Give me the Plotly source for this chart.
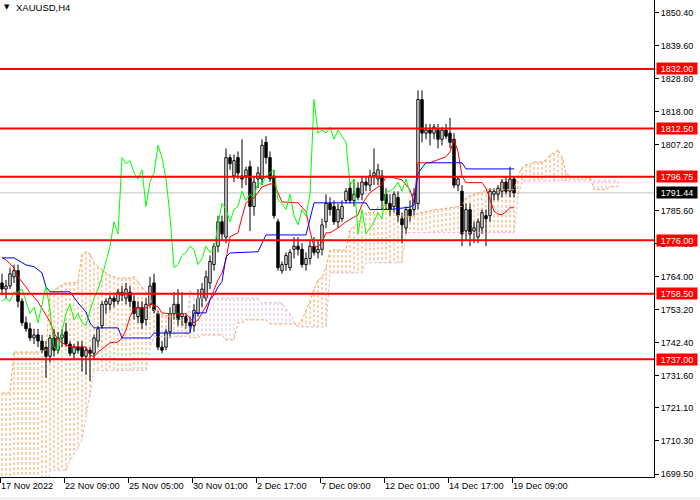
import plotly.graph_objects as go

# ---------------- data ----------------
bar_open = [1762, 1760, 1761, 1764, 1766, 1756, 1749, 1747, 1744, 1745,
            1743, 1741, 1738, 1744, 1740, 1744, 1746, 1742, 1739, 1741,
            1741, 1738, 1740, 1739, 1743, 1748, 1755, 1755, 1757, 1756,
            1758, 1757, 1759, 1756, 1751, 1754, 1750, 1755, 1762, 1752,
            1741, 1741, 1746, 1752, 1755, 1751, 1751, 1749, 1748, 1752,
            1757, 1757, 1762, 1768, 1774, 1782, 1777, 1803, 1797, 1803,
            1797, 1797, 1800, 1787, 1796, 1796, 1808, 1803, 1797, 1782,
            1766, 1768, 1767, 1773, 1774, 1773, 1768, 1770, 1774, 1772,
            1773, 1782, 1788, 1787, 1782, 1783, 1789, 1793, 1789, 1793,
            1791, 1795, 1794, 1797, 1796, 1797, 1791, 1788, 1787, 1790,
            1783, 1780, 1786, 1786, 1788, 1822, 1811, 1812, 1811, 1812,
            1809, 1812, 1811, 1809, 1794, 1792, 1779, 1786, 1779, 1777,
            1780, 1784, 1784, 1791, 1791, 1792, 1795, 1792, 1796]
bar_high = [1765, 1763, 1767, 1768, 1768, 1757, 1751, 1749, 1747, 1747,
            1745, 1743, 1745, 1747, 1746, 1747, 1749, 1743, 1742, 1743,
            1743, 1741, 1741, 1745, 1748, 1756, 1757, 1758, 1758, 1760,
            1761, 1762, 1761, 1758, 1756, 1756, 1757, 1764, 1765, 1753,
            1743, 1747, 1754, 1759, 1760, 1759, 1752, 1751, 1755, 1760,
            1762, 1766, 1771, 1775, 1784, 1784, 1806, 1804, 1804, 1805,
            1809, 1800, 1802, 1797, 1800, 1809, 1810, 1805, 1799, 1783,
            1769, 1772, 1773, 1777, 1777, 1775, 1772, 1776, 1777, 1776,
            1783, 1791, 1790, 1789, 1788, 1789, 1793, 1795, 1796, 1795,
            1797, 1797, 1799, 1806, 1801, 1799, 1793, 1791, 1792, 1792,
            1785, 1787, 1789, 1793, 1825, 1825, 1814, 1814, 1814, 1814,
            1813, 1814, 1816, 1811, 1797, 1794, 1788, 1788, 1782, 1783,
            1786, 1786, 1793, 1793, 1794, 1796, 1797, 1800, 1797]
bar_low = [1758, 1757, 1760, 1762, 1754, 1748, 1746, 1743, 1742, 1741,
           1739, 1731, 1736, 1738, 1739, 1741, 1741, 1738, 1737, 1739,
           1733, 1732, 1730, 1737, 1741, 1747, 1752, 1753, 1754, 1755,
           1756, 1755, 1754, 1750, 1749, 1747, 1748, 1754, 1752, 1740,
           1739, 1740, 1744, 1750, 1748, 1748, 1747, 1746, 1746, 1751,
           1754, 1756, 1760, 1766, 1772, 1776, 1775, 1799, 1795, 1796,
           1793, 1794, 1779, 1784, 1793, 1794, 1801, 1795, 1783, 1766,
           1765, 1766, 1766, 1770, 1771, 1767, 1766, 1768, 1771, 1770,
           1771, 1780, 1784, 1781, 1780, 1782, 1788, 1788, 1787, 1789,
           1789, 1792, 1792, 1794, 1794, 1786, 1786, 1784, 1785, 1782,
           1775, 1778, 1782, 1784, 1786, 1808, 1809, 1807, 1809, 1806,
           1807, 1809, 1806, 1793, 1792, 1774, 1776, 1774, 1775, 1775,
           1778, 1774, 1782, 1789, 1789, 1790, 1791, 1790, 1790]
bar_close = [1760, 1761, 1765, 1766, 1756, 1749, 1747, 1744, 1745, 1743,
             1740, 1738, 1744, 1740, 1744, 1745, 1742, 1739, 1741, 1740,
             1738, 1740, 1739, 1744, 1747, 1755, 1756, 1757, 1756, 1759,
             1759, 1760, 1756, 1752, 1754, 1749, 1755, 1761, 1753, 1741,
             1740, 1746, 1752, 1755, 1750, 1752, 1749, 1748, 1753, 1757,
             1760, 1764, 1769, 1774, 1782, 1778, 1803, 1801, 1802, 1798,
             1796, 1799, 1787, 1795, 1798, 1807, 1803, 1796, 1784, 1767,
             1768, 1771, 1772, 1774, 1773, 1768, 1770, 1774, 1772, 1773,
             1781, 1788, 1786, 1782, 1786, 1787, 1792, 1789, 1791, 1790,
             1795, 1794, 1797, 1798, 1799, 1789, 1788, 1786, 1791, 1784,
             1781, 1786, 1784, 1791, 1822, 1811, 1812, 1811, 1813, 1809,
             1812, 1810, 1808, 1794, 1796, 1778, 1786, 1778, 1780, 1782,
             1785, 1783, 1792, 1792, 1793, 1795, 1792, 1796, 1791.44]

tenkan_bar = [0, 1, 3, 4, 6, 7, 9, 11, 12, 13, 14, 15, 17, 21, 22, 23, 24, 27, 29, 30,
              31, 32, 33, 36, 37, 39, 40, 42, 46, 47, 48, 49, 50, 51, 52, 53, 54, 55, 56, 57,
              59, 60, 61, 62, 63, 65, 67, 68, 70, 74, 76, 77, 78, 79, 80, 81, 82, 84, 86, 89,
              90, 91, 92, 94, 95, 96, 98, 100, 102, 103, 104, 107, 109, 111, 112, 113, 114, 115, 116, 120,
              121, 122, 123, 124, 125, 126, 127, 128]
tenkan_val = [1770.2, 1769.6, 1766.9, 1764.0, 1760.7, 1758.8, 1755.8, 1751.5, 1749.3, 1745.7,
              1743.4, 1742.4, 1741.1, 1741.1, 1738.5, 1737.8, 1739.4, 1742.4, 1742.7, 1744.0,
              1746.6, 1750.9, 1753.8, 1753.8, 1755.1, 1754.2, 1752.2, 1751.9, 1751.9, 1750.6,
              1748.9, 1749.9, 1752.2, 1754.2, 1756.5, 1759.7, 1763.0, 1765.3, 1769.6, 1777.1,
              1778.4, 1783.6, 1788.2, 1789.2, 1789.8, 1793.4, 1794.4, 1794.4, 1788.5, 1788.2,
              1785.3, 1779.0, 1773.8, 1773.8, 1775.4, 1778.4, 1778.4, 1780.0, 1782.0, 1784.3,
              1787.6, 1789.8, 1791.5, 1793.4, 1794.1, 1796.7, 1796.4, 1795.7, 1792.5, 1788.2,
              1801.3, 1801.3, 1802.3, 1803.3, 1804.9, 1808.8, 1805.0, 1797.0, 1794.8, 1794.8,
              1793.0, 1789.0, 1785.5, 1784.5, 1784.3, 1785.3, 1786.6, 1786.6]

kijun_bar = [0, 3, 6, 8, 10, 11, 12, 17, 19, 21, 22, 23, 29, 30, 37, 38, 47, 48, 51, 52,
             53, 54, 55, 56, 57, 64, 66, 76, 78, 91, 92, 97, 102, 103, 104, 106, 115, 116, 128]
kijun_val = [1770.2, 1770.2, 1767.9, 1767.3, 1765.3, 1760.7, 1759.1, 1759.1, 1755.5, 1752.5,
             1748.9, 1747.3, 1747.3, 1744.0, 1744.0, 1745.6, 1745.6, 1752.2, 1752.2, 1756.5,
             1758.1, 1760.7, 1762.4, 1770.5, 1771.8, 1772.2, 1777.7, 1777.7, 1788.2, 1788.2,
             1786.0, 1786.0, 1786.8, 1787.5, 1798.0, 1801.3, 1801.3, 1799.3, 1799.3]

span_a = [1726.0, 1726.0, 1726.0, 1739.4, 1739.4, 1739.4, 1739.4, 1739.4, 1739.4, 1739.4,
          1740.0, 1740.0, 1758.8, 1759.7, 1760.7, 1761.4, 1762.0, 1762.0, 1762.0, 1762.4,
          1771.4, 1772.2, 1771.4, 1768.6, 1767.3, 1766.3, 1765.3, 1764.5, 1764.0, 1763.6,
          1763.6, 1763.6, 1763.6, 1764.0, 1762.4, 1760.7, 1759.0, 1757.4, 1753.2, 1752.0,
          1751.5, 1751.5, 1750.9, 1750.9, 1750.0, 1749.9, 1746.0, 1744.1, 1744.1, 1744.1,
          1745.0, 1745.0, 1745.0, 1745.0, 1745.0, 1745.0, 1743.4, 1743.4, 1743.4, 1749.0,
          1749.0, 1749.9, 1749.9, 1749.9, 1749.9, 1749.9, 1749.9, 1748.6, 1748.6, 1748.6,
          1748.6, 1748.6, 1748.6, 1748.6, 1748.0, 1750.0, 1753.0, 1756.0, 1760.0, 1763.0,
          1764.0, 1767.0, 1772.8, 1772.8, 1772.8, 1772.8, 1772.8, 1779.4, 1780.5, 1781.7,
          1784.0, 1785.0, 1785.0, 1785.0, 1786.9, 1786.9, 1786.9, 1785.9, 1785.0, 1784.0,
          1784.0, 1783.6, 1783.6, 1783.6, 1785.0, 1785.0, 1785.3, 1785.6, 1786.0, 1786.0,
          1786.2, 1786.5, 1786.6, 1786.9, 1787.0, 1787.0, 1790.0, 1790.5, 1791.0, 1791.5,
          1791.5, 1792.5, 1792.5, 1792.5, 1792.5, 1792.5, 1792.5, 1792.5, 1792.5, 1797.0,
          1799.7, 1800.7, 1800.7, 1801.6, 1801.6, 1801.6, 1802.3, 1803.9, 1804.5, 1805.6,
          1803.0, 1798.0, 1796.7, 1796.7, 1796.7, 1796.7, 1796.7, 1796.7, 1792.5, 1792.5,
          1792.5, 1792.5, 1793.5, 1793.5, 1793.5]
span_b = [1690.0, 1690.0, 1690.0, 1690.0, 1690.0, 1690.0, 1690.0, 1690.0, 1690.0, 1690.0,
          1690.0, 1690.0, 1700.8, 1700.8, 1700.8, 1700.8, 1700.8, 1704.0, 1706.0, 1708.0,
          1710.6, 1718.0, 1725.0, 1733.4, 1733.4, 1733.4, 1733.4, 1733.4, 1733.4, 1733.4,
          1733.4, 1733.4, 1733.4, 1733.4, 1733.4, 1733.4, 1733.4, 1741.0, 1744.4, 1744.4,
          1744.4, 1744.4, 1744.4, 1744.4, 1744.4, 1744.4, 1744.4, 1759.7, 1757.0, 1757.0,
          1757.0, 1757.0, 1757.0, 1757.0, 1757.0, 1757.0, 1757.0, 1757.0, 1757.0, 1757.0,
          1757.0, 1757.0, 1757.0, 1757.0, 1757.0, 1755.5, 1755.5, 1755.5, 1755.5, 1755.5,
          1755.5, 1753.5, 1752.0, 1749.3, 1747.6, 1747.6, 1747.6, 1747.6, 1747.6, 1747.6,
          1747.6, 1747.6, 1765.3, 1765.3, 1765.3, 1765.3, 1765.3, 1765.3, 1765.3, 1765.3,
          1765.3, 1768.6, 1768.6, 1768.6, 1768.6, 1768.6, 1768.6, 1768.6, 1768.6, 1768.6,
          1768.6, 1778.4, 1778.4, 1778.4, 1778.4, 1778.4, 1778.4, 1778.4, 1778.4, 1778.4,
          1778.4, 1778.4, 1778.4, 1778.4, 1778.4, 1778.4, 1778.4, 1778.4, 1778.4, 1778.4,
          1778.4, 1778.4, 1778.4, 1778.4, 1778.4, 1778.4, 1778.4, 1778.4, 1778.4, 1790.0,
          1795.4, 1795.4, 1795.4, 1795.4, 1795.4, 1795.4, 1795.4, 1795.4, 1795.4, 1795.4,
          1795.4, 1795.4, 1795.4, 1795.4, 1795.4, 1795.4, 1795.4, 1795.4, 1795.4, 1795.4,
          1795.4, 1795.4, 1795.4, 1795.4, 1795.4]

chikou_shift = 26
levels = [1832.00, 1812.50, 1796.75, 1776.00, 1758.50, 1737.00]
last_price = 1791.44

y_ticks = [1850.40, 1839.60, 1828.80, 1818.00, 1807.20, 1785.60, 1774.80, 1764.00,
           1753.20, 1742.40, 1731.60, 1721.10, 1710.30, 1699.50]
x_tick_bars = [-0.5, 15.5, 31.5, 47.5, 63.5, 79.5, 95.5, 111.5, 127.5]
x_tick_text = ["17 Nov 2022", "22 Nov 09:00", "25 Nov 05:00", "30 Nov 01:00", "2 Dec 17:00",
               "7 Dec 09:00", "12 Dec 01:00", "14 Dec 17:00", "19 Dec 09:00"]
symbol_title = "XAUUSD,H4"

# ---------------- figure ----------------
FONT = "Liberation Sans, Arial, sans-serif"
ORANGE = "#F4A460"
THISTLE = "#D8BFD8"
HATCH = "3px,2px"
HALF_BODY = 0.3

bars = list(range(len(bar_close)))
cloud_bars = list(range(len(span_a)))

fig = go.Figure()

# Ichimoku cloud hatch (one dotted vertical stroke per bar)
ox, oy, tx, ty = [], [], [], []
for i, a, b in zip(cloud_bars, span_a, span_b):
    if a >= b:
        ox += [i, i, None]
        oy += [a, b, None]
    else:
        tx += [i, i, None]
        ty += [b, a, None]
fig.add_trace(go.Scatter(x=ox, y=oy, mode="lines", line=dict(color=ORANGE, width=1, dash=HATCH),
                         hoverinfo="skip"))
fig.add_trace(go.Scatter(x=tx, y=ty, mode="lines", line=dict(color=THISTLE, width=1, dash=HATCH),
                         hoverinfo="skip"))

# candles: wicks, then bodies
wx, wy = [], []
ux, uy, dx, dy = [], [], [], []
for i, o, h, l, c in zip(bars, bar_open, bar_high, bar_low, bar_close):
    wx += [i, i, None]
    wy += [l, h, None]
    px = [i - HALF_BODY, i + HALF_BODY, i + HALF_BODY, i - HALF_BODY, i - HALF_BODY, None]
    py = [o, o, c, c, o, None]
    if c >= o:
        ux += px
        uy += py
    else:
        dx += px
        dy += py
fig.add_trace(go.Scatter(x=wx, y=wy, mode="lines", line=dict(color="black", width=1),
                         hoverinfo="skip"))
fig.add_trace(go.Scatter(x=ux, y=uy, mode="lines", fill="toself", fillcolor="white",
                         line=dict(color="black", width=1), hoverinfo="skip"))
fig.add_trace(go.Scatter(x=dx, y=dy, mode="lines", fill="toself", fillcolor="black",
                         line=dict(color="black", width=1), hoverinfo="skip"))

# span lines
fig.add_trace(go.Scatter(x=cloud_bars, y=span_a, mode="lines",
                         line=dict(color=ORANGE, width=1, dash=HATCH), hoverinfo="skip"))
fig.add_trace(go.Scatter(x=cloud_bars, y=span_b, mode="lines",
                         line=dict(color=THISTLE, width=1, dash=HATCH), hoverinfo="skip"))

# tenkan, kijun, chikou
fig.add_trace(go.Scatter(x=tenkan_bar, y=tenkan_val, mode="lines",
                         line=dict(color="#FF0000", width=1), hoverinfo="skip"))
fig.add_trace(go.Scatter(x=kijun_bar, y=kijun_val, mode="lines",
                         line=dict(color="#0000FF", width=1), hoverinfo="skip"))
fig.add_trace(go.Scatter(x=[b - chikou_shift for b in bars[chikou_shift:]],
                         y=bar_close[chikou_shift:], mode="lines",
                         line=dict(color="#00FF00", width=1), hoverinfo="skip"))

shapes = [dict(type="line", xref="paper", x0=0, x1=1, yref="y", y0=last_price, y1=last_price,
               line=dict(color="#C0C0C0", width=1), layer="below")]
for lv in levels:
    shapes.append(dict(type="line", xref="paper", x0=0, x1=1, yref="y", y0=lv, y1=lv,
                       line=dict(color="#FF0000", width=2), layer="above"))
shapes.append(dict(type="rect", xref="paper", yref="paper", x0=-0.01, x1=1.1,
                   y0=-0.0482, y1=-0.0419, fillcolor="#F0F0F0", line=dict(width=0)))

annotations = []
for lv in levels:
    annotations.append(dict(x=1, xref="paper", xanchor="left", xshift=2, y=lv, yref="y",
                            text=f"{lv:.2f}", showarrow=False, bgcolor="#FF0000",
                            font=dict(family=FONT, size=9, color="white"),
                            width=40, height=11, borderpad=0))
annotations.append(dict(x=1, xref="paper", xanchor="left", xshift=2, y=last_price, yref="y",
                        text=f"{last_price:.2f}", showarrow=False, bgcolor="#000000",
                        font=dict(family=FONT, size=9, color="white"),
                        width=40, height=11, borderpad=0))
annotations.append(dict(x=0, xref="paper", xanchor="left", xshift=2, y=1, yref="paper",
                        yanchor="top", yshift=-1, text="▼", showarrow=False,
                        font=dict(family="DejaVu Sans", size=7, color="black")))
annotations.append(dict(x=0, xref="paper", xanchor="left", xshift=14, y=1, yref="paper",
                        yanchor="top", text=symbol_title, showarrow=False,
                        font=dict(family=FONT, size=9.5, color="black")))

fig.update_layout(
    width=700, height=500,
    margin=dict(l=0, r=46, t=0, b=23, pad=0),
    paper_bgcolor="white", plot_bgcolor="white",
    showlegend=False, hovermode=False,
    shapes=shapes, annotations=annotations,
    xaxis=dict(range=[-0.5, 163.0], showgrid=False, zeroline=False, showline=True,
               linecolor="black", linewidth=1, ticks="outside", ticklen=5, tickcolor="black",
               tickvals=x_tick_bars, ticktext=x_tick_text, ticklabelposition="outside right",
               tickangle=0, tickfont=dict(family=FONT, size=9.2, color="black"),
               fixedrange=True),
    yaxis=dict(range=[1698.52, 1854.55], side="right", showgrid=False, zeroline=False,
               showline=True, linecolor="black", linewidth=1, ticks="outside", ticklen=4,
               tickcolor="black", tickvals=y_ticks, ticktext=[f"{v:.2f}" for v in y_ticks],
               tickfont=dict(family=FONT, size=9, color="black"), fixedrange=True),
)

fig.write_html("out.html", config={"displayModeBar": False},
               post_script="document.body.style.margin='0';")
